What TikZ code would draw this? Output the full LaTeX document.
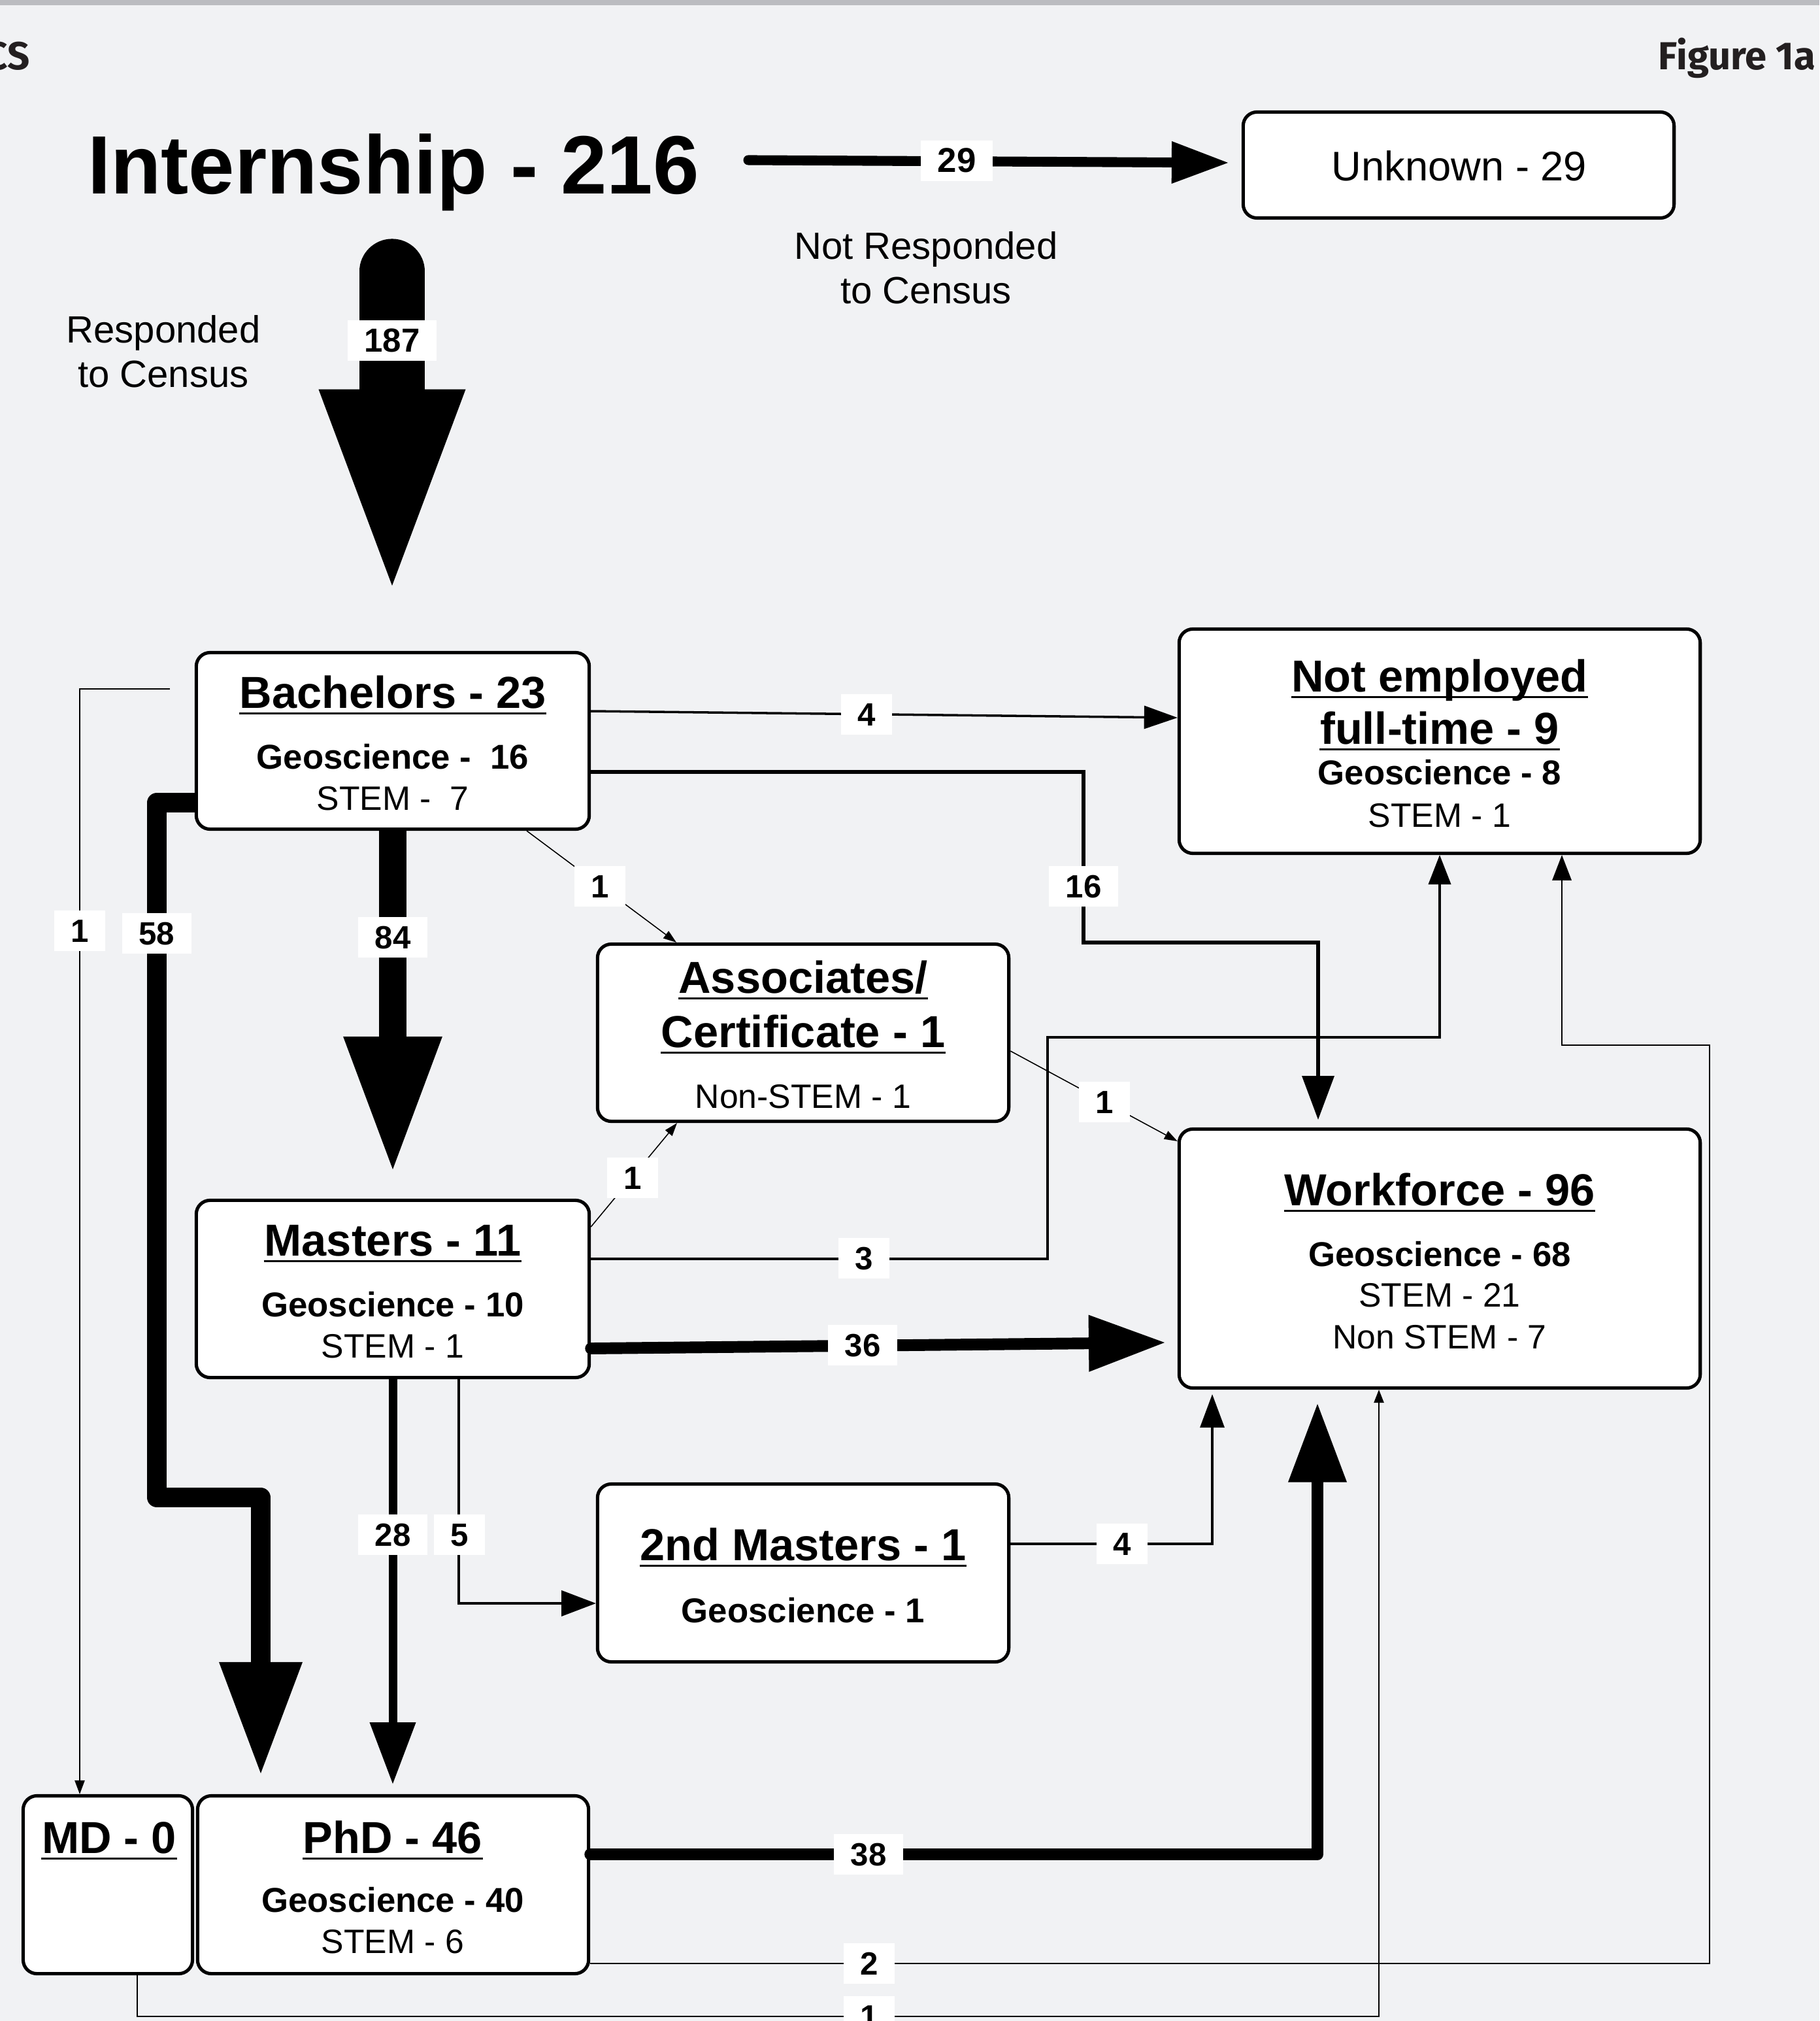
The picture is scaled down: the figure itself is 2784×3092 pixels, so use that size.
\documentclass[tikz,border=0pt]{standalone}
\usepackage{fontspec}
\setmainfont{Liberation Sans}
\newfontfamily\headfont{Fira Sans}
\usetikzlibrary{arrows.meta}
\definecolor{bgc}{RGB}{241,242,244}
\definecolor{topbar}{RGB}{187,188,192}
\definecolor{headc}{RGB}{35,31,32}
\tikzset{
  box/.style={draw=black, fill=white, line width=1.45pt, rounded corners=6pt, inner sep=0pt},
  ttl/.style={anchor=base, inner sep=0pt, font=\fontsize{19.5}{23}\selectfont\bfseries},
  gsub/.style={anchor=base, inner sep=0pt, font=\fontsize{15}{18}\selectfont\bfseries},
  rsub/.style={anchor=base, inner sep=0pt, font=\fontsize{14.7}{18}\selectfont},
  captxt/.style={anchor=base, inner sep=0pt, font=\fontsize{16.5}{20}\selectfont},
  headtxt/.style={anchor=base east, inner sep=0pt, text=headc, font=\headfont\fontsize{17}{20}\selectfont\bfseries},
  lbl/.style={fill=white, inner xsep=7.2pt, inner ysep=3.8pt, text height=10pt, text depth=0pt, font=\fontsize{14}{16}\selectfont\bfseries},
  uline/.style={line width=0.85pt},
  hd/.style 2 args={-{Triangle[length=#1,width=#2,line width=0pt]}},
  thinl/.style={line width=0.45pt},
  midl/.style={line width=1pt},
}
\begin{document}
\begin{tikzpicture}[x=0.01cm, y=-0.01cm]
\fill[bgc] (0,0) rectangle (2784,3092);
\fill[topbar] (0,0) rectangle (2784,8);
\useasboundingbox (0,0) rectangle (2784,3092);

% header texts
\node[headtxt] (hdl) at (46,107) {CS};
\node[headtxt] (fig) at (2779,107) {Figure 1a};

\node[anchor=base, inner sep=0pt, font=\fontsize{36}{40}\selectfont\bfseries] (intern) at (602,297) {Internship - 216};
\node[captxt] (resp1) at (250,525) {Responded};
\node[captxt] (resp2) at (250,593) {to Census};
\node[captxt] (nresp1) at (1417,397) {Not Responded};
\node[captxt] (nresp2) at (1417,465) {to Census};

% boxes
\node[box, minimum width=6.59cm, minimum height=1.62cm] (unk) at (2232,252.5) {};
\node[box, minimum width=6.01cm, minimum height=2.70cm] (bach) at (601,1133.5) {};
\node[box, minimum width=6.01cm, minimum height=2.71cm] (ms) at (601,1972) {};
\node[box, minimum width=5.98cm, minimum height=2.72cm] (phd) at (601.5,2883.5) {};
\node[box, minimum width=2.59cm, minimum height=2.72cm] (md) at (165,2883.5) {};
\node[box, minimum width=6.29cm, minimum height=2.71cm] (assoc) at (1229,1580) {};
\node[box, minimum width=6.29cm, minimum height=2.72cm] (sm) at (1229,2406.5) {};
\node[box, minimum width=7.97cm, minimum height=3.43cm] (ne) at (2203,1134) {};
\node[box, minimum width=7.97cm, minimum height=3.96cm] (wf) at (2203,1925.5) {};

% box texts
\node[anchor=base, inner sep=0pt, font=\fontsize{18}{21}\selectfont] (tunk) at (2233,277) {Unknown - 29};

\node[ttl] (tbach) at (601,1083) {Bachelors - 23};
\node[gsub] (gbach) at (601,1176) {Geoscience -\ \ 16};
\node[rsub] (sbach) at (601,1239) {STEM -\ \ 7};

\node[ttl] (tms) at (601,1921) {Masters - 11};
\node[gsub] (gms) at (601,2014) {Geoscience - 10};
\node[rsub] (sms) at (601,2077) {STEM - 1};

\node[ttl] (tphd) at (601,2835) {PhD - 46};
\node[gsub] (gphd) at (601,2925) {Geoscience - 40};
\node[rsub] (sphd) at (601,2988) {STEM - 6};

\node[ttl] (tmd) at (167,2835) {MD - 0};

\node[ttl] (tas1) at (1229,1519) {Associates/};
\node[ttl] (tas2) at (1229,1602) {Certificate - 1};
\node[rsub] (sas) at (1229,1695) {Non-STEM - 1};

\node[ttl] (tsm) at (1229,2387) {2nd Masters - 1};
\node[gsub] (gsm) at (1229,2482) {Geoscience - 1};

\node[ttl] (tne1) at (2203,1058) {Not employed};
\node[ttl] (tne2) at (2203,1138) {full-time - 9};
\node[gsub] (gne) at (2203,1200) {Geoscience - 8};
\node[rsub] (sne) at (2203,1265) {STEM - 1};

\node[ttl] (twf) at (2203,1844) {Workforce - 96};
\node[gsub] (gwf) at (2203,1937) {Geoscience - 68};
\node[rsub] (swf) at (2203,1999) {STEM - 21};
\node[rsub] (nwf) at (2203,2063) {Non STEM - 7};

\foreach \n in {tbach,tms,tphd,tmd,tas1,tas2,tsm,tne1,tne2,twf}
  \draw[uline] ([yshift=-2.3pt]\n.base west) -- ([yshift=-2.3pt]\n.base east);

% connector end coordinates
\coordinate (s187) at (600,415);
\coordinate (t187) at (600,896);
\coordinate (s29) at (1145,245);
\coordinate (t29) at (1879,249);
\coordinate (t84) at (601,1789);
\coordinate (t58) at (399,2713);
\coordinate (s6) at (260,1054);
\coordinate (t36) at (1782,2054);
\coordinate (t28) at (601,2729);
\coordinate (t38) at (2016,2148);

% connectors
\draw[line width=28.2pt, line cap=round, hd={85.4pt}{64pt}] (s187) -- (t187);
\draw[line width=4.3pt, line cap=round, hd={24.5pt}{18.5pt}] (s29) -- (t29);
\draw[midl, hd={14.5pt}{10.2pt}] (bach.east |- 0,1088) -- (ne.west |- 0,1098);
\draw[line width=1.7pt, hd={19pt}{14.2pt}, shorten >=3.4pt] (bach.east |- 0,1181) -- (1658,1181) -- (1658,1442) -- (2017,1442) -- (wf.north -| 2017,0);
\draw[thinl, hd={5.7pt}{4pt}] (bach.south -| 806,0) -- (assoc.north -| 1035,0);
\draw[line width=12.2pt, hd={57.8pt}{43.2pt}] (bach.south) -- (t84);
\draw[line width=8.5pt, line join=round, hd={48.4pt}{36.4pt}] (bach.west |- 0,1228) -- (240,1228) -- (240,2291) -- (399,2291) -- (t58);
\draw[line width=0.35pt, hd={6pt}{4.5pt}] (s6) -- (122,1054) -- (md.north -| 122,0);
\draw[thinl, hd={5.7pt}{4pt}] (ms.east |- 0,1877) -- (assoc.south -| 1036,0);
\draw[midl, hd={12.8pt}{10pt}] (ms.east |- 0,1926) -- (1603,1926) -- (1603,1587) -- (2203,1587) -- (ne.south);
\draw[line width=5.1pt, line cap=round, hd={33pt}{24.8pt}] (ms.east |- 0,2063) -- (t36);
\draw[thinl, hd={5.7pt}{4pt}] (assoc.east |- 0,1608) -- (wf.west |- 0,1746);
\draw[line width=3.7pt, hd={26.7pt}{20.2pt}] (ms.south) -- (t28);
\draw[line width=1.2pt, hd={15pt}{11.4pt}] (ms.south -| 702,0) -- (702,2453) -- (sm.west |- 0,2453);
\draw[midl, hd={14.5pt}{10.8pt}, shorten >=2pt] (sm.east |- 0,2362) -- (1855,2362) -- (wf.south -| 1855,0);
\draw[line width=5.1pt, line cap=round, line join=round, hd={34pt}{25.6pt}] (phd.east |- 0,2837) -- (2016,2837) -- (t38);
\draw[line width=0.75pt, hd={11pt}{8.5pt}] (phd.east |- 0,3004) -- (2616,3004) -- (2616,1599) -- (2390,1599) -- (ne.south -| 2390,0);
\draw[thinl, hd={5.7pt}{4.5pt}] (md.south -| 210,0) -- (210,3085) -- (2110,3085) -- (wf.south -| 2110,0);

% labels
\node[lbl, font=\fontsize{15}{17}\selectfont\bfseries] (l29) at (1464,246) {29};
\node[lbl, font=\fontsize{14.5}{17}\selectfont\bfseries] (l187) at (600,521) {187};
\node[lbl] (l4a) at (1326,1093) {4};
\node[lbl] (l16) at (1658,1356) {16};
\node[lbl] (l1a) at (918,1356) {1};
\node[lbl] (l84) at (601,1434) {84};
\node[lbl] (l58) at (240,1428) {58};
\node[lbl] (l1b) at (122,1424) {1};
\node[lbl] (l1c) at (968,1802) {1};
\node[lbl] (l3) at (1322,1925) {3};
\node[lbl] (l36) at (1320,2058) {36};
\node[lbl] (l1d) at (1690,1686) {1};
\node[lbl] (l28) at (601,2348) {28};
\node[lbl] (l5) at (703,2348) {5};
\node[lbl] (l4b) at (1717,2362) {4};
\node[lbl] (l38) at (1329,2837) {38};
\node[lbl] (l2) at (1330,3004) {2};
\node[lbl] (l1e) at (1330,3085) {1};
\end{tikzpicture}
\end{document}
